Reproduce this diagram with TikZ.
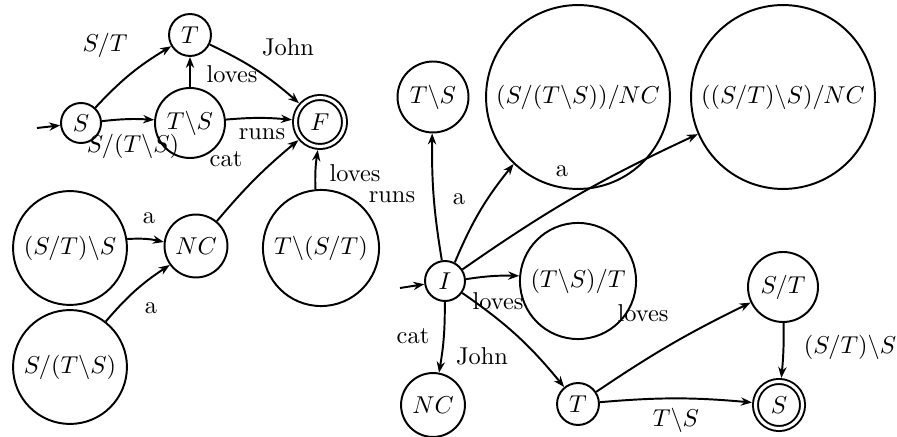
\documentclass[tikz,border=0pt]{standalone}
\usetikzlibrary{arrows.meta}
\begin{document}
\begin{tikzpicture}[x=0.41pt,y=-0.41pt,
  state/.style={draw, circle, line width=0.8pt, inner sep=0pt},
  final/.style={state, double, double distance=1.25pt, outer sep=1.5pt},
  trans/.style={-{Stealth[length=4.5pt,width=3.4pt]}, line width=0.8pt},
  lbl/.style={inner sep=0pt}]
\useasboundingbox (0,0) rectangle (897,437);

% left automaton
\node[state, minimum size=16.4pt] (s)    at (81,123)  {$S$};
\node[state, minimum size=17.2pt] (t)    at (190,35)  {$T$};
\node[state, minimum size=28.7pt] (ts)   at (190,123) {$T\backslash S$};
\node[final, minimum size=20.1pt] (f)    at (320,122) {$F$};
\node[state, minimum size=46.7pt] (sts)  at (70,248)  {$(S/T)\backslash S$};
\node[state, minimum size=25.8pt] (nc)   at (196,246) {$NC$};
\node[state, minimum size=47.6pt] (tst)  at (321,248) {$T\backslash(S/T)$};
\node[state, minimum size=46.7pt] (sfts) at (70,367)  {$S/(T\backslash S)$};
\coordinate (in1) at (37,128);

\draw[trans] (in1) -- (s);
\draw[trans] (s) to[bend left=8] (t);
\draw[trans] (s) to[bend left=5] (ts);
\draw[trans] (ts) -- (t);
\draw[trans] (t) to[bend left=8] (f);
\draw[trans] (ts) to[bend left=5] (f);
\draw[trans] (nc) to[bend left=5] (f);
\draw[trans] (tst) to[bend left=5] (f);
\draw[trans] (sts) to[bend left=8] (nc);
\draw[trans] (sfts) to[bend left=8] (nc);

\node[lbl] (l1)  at (105,45)  {$S/T$};
\node[lbl] (l2)  at (288,47)  {John};
\node[lbl] (l3)  at (232,74)  {loves};
\node[lbl] (l4)  at (133,146) {$S/(T\backslash S)$};
\node[lbl] (l5)  at (262,134) {runs};
\node[lbl] (l6)  at (226,159) {cat};
\node[lbl] (l7)  at (355,173) {loves};
\node[lbl] (l8)  at (149,218) {a};
\node[lbl] (l9)  at (151,308) {a};

% right automaton
\node[state, minimum size=29.1pt] (rts)  at (433,97)  {$T\backslash S$};
\node[state, minimum size=75.4pt] (snc1) at (578,97)  {$(S/(T\backslash S))/NC$};
\node[state, minimum size=75.4pt] (snc2) at (783,97)  {$((S/T)\backslash S)/NC$};
\node[state, minimum size=16.4pt] (i)    at (445,281) {$I$};
\node[state, minimum size=47.6pt] (tst2) at (578,281) {$(T\backslash S)/T$};
\node[state, minimum size=28.7pt] (st)   at (783,287) {$S/T$};
\node[final, minimum size=19.3pt] (sfin) at (779,405) {$S$};
\node[state, minimum size=17.2pt] (t2)   at (578,404) {$T$};
\node[state, minimum size=26.2pt] (nc2)  at (433,405) {$NC$};
\coordinate (in2) at (400,288);

\draw[trans] (in2) -- (i);
\draw[trans] (i) to[bend left=5] (rts);
\draw[trans] (i) to[bend left=8] (snc1);
\draw[trans] (i) to[bend left=5] (snc2);
\draw[trans] (i) to[bend left=5] (tst2);
\draw[trans] (i) to[bend left=5] (nc2);
\draw[trans] (i) to[bend left=8] (t2);
\draw[trans] (t2) to[bend left=4] (st);
\draw[trans] (t2) to[bend left=5] (sfin);
\draw[trans] (st) to[bend left=3] (sfin);

\node[lbl] (r1)  at (392,197) {runs};
\node[lbl] (r2)  at (459,199) {a};
\node[lbl] (r3)  at (562,171) {a};
\node[lbl] (r4)  at (498,301) {loves};
\node[lbl] (r5)  at (643,313) {loves};
\node[lbl] (r6)  at (413,336) {cat};
\node[lbl] (r7)  at (482,356) {John};
\node[lbl] (r8)  at (676,420) {$T\backslash S$};
\node[lbl] (r9)  at (850,347) {$(S/T)\backslash S$};
\end{tikzpicture}
\end{document}
